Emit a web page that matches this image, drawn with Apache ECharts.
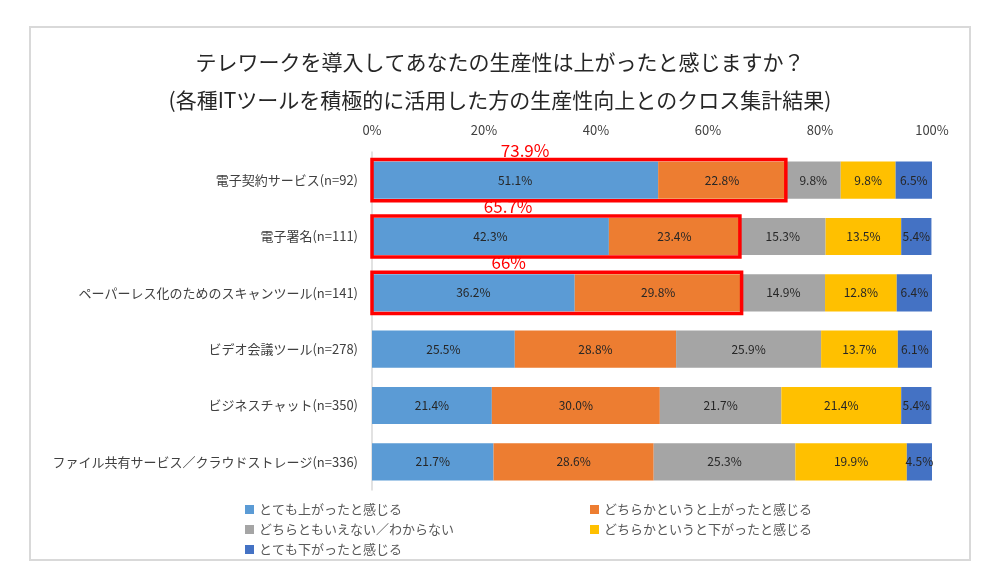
<!DOCTYPE html>
<html>
<head>
<meta charset="utf-8">
<script src="https://cdn.jsdelivr.net/npm/echarts@6/dist/echarts.min.js"></script>
<style>
  html, body { margin: 0; padding: 0; background: #fff; }
  #chart { width: 1000px; height: 588px; }
</style>
</head>
<body>
<div id="chart"></div>
<script>
// カテゴリ（上から順）
const categories = [
  '電子契約サービス(n=92)',
  '電子署名(n=111)',
  'ペーパーレス化のためのスキャンツール(n=141)',
  'ビデオ会議ツール(n=278)',
  'ビジネスチャット(n=350)',
  'ファイル共有サービス／クラウドストレージ(n=336)'
];
const seriesNames = [
  'とても上がったと感じる',
  'どちらかというと上がったと感じる',
  'どちらともいえない／わからない',
  'どちらかというと下がったと感じる',
  'とても下がったと感じる'
];
const veryUp = [51.1, 42.3, 36.2, 25.5, 21.4, 21.7];
const slightlyUp = [22.8, 23.4, 29.8, 28.8, 30.0, 28.6];
const neutral = [9.8, 15.3, 14.9, 25.9, 21.7, 25.3];
const slightlyDown = [9.8, 13.5, 12.8, 13.7, 21.4, 19.9];
const veryDown = [6.5, 5.4, 6.4, 6.1, 5.4, 4.5];
// 赤枠で強調する「上がった」合計（上位3カテゴリ）
const upTotals = [73.9, 65.7, 66];
const xTicks = [0, 20, 40, 60, 80, 100];

const colors = ['#5B9BD5', '#ED7D31', '#A5A5A5', '#FFC000', '#4472C4'];
const FONT = '"Noto Sans CJK JP", "Noto Sans", sans-serif';

const chart = echarts.init(document.getElementById('chart'));

const barSeries = [veryUp, slightlyUp, neutral, slightlyDown, veryDown].map((arr, i) => ({
  name: seriesNames[i],
  type: 'bar',
  stack: 'total',
  barCategoryGap: '34%',
  data: arr,
  itemStyle: { color: colors[i] },
  label: {
    show: true,
    position: 'inside',
    color: '#262626',
    fontSize: 12,
    fontFamily: FONT,
    formatter: p => p.value.toFixed(1) + '%'
  },
  emphasis: { disabled: true }
}));

// 赤枠＋ラベル（カスタムシリーズ）
const boxSeries = {
  type: 'custom',
  z: 10,
  silent: true,
  data: upTotals.map((v, i) => [v, i]),
  encode: { x: 0, y: 1 },
  renderItem: (params, api) => {
    const v = api.value(0);
    const cat = api.value(1);
    const p0 = api.coord([0, cat]);
    const p1 = api.coord([v, cat]);
    const h = api.size([0, 1])[1] * 0.66 + 4;
    const top = p0[1] - h / 2;
    return {
      type: 'group',
      children: [
        {
          type: 'rect',
          shape: { x: p0[0], y: top, width: p1[0] - p0[0], height: h },
          style: { fill: 'none', stroke: '#FF0000', lineWidth: 3.5 }
        },
        {
          type: 'text',
          style: {
            text: v + '%',
            x: p0[0] + (p1[0] - p0[0]) * 0.37,
            y: top - 1,
            align: 'center',
            verticalAlign: 'bottom',
            fill: '#FF0000',
            font: '17px ' + FONT
          }
        }
      ]
    };
  }
};

const option = {
  backgroundColor: '#fff',
  textStyle: { fontFamily: FONT },
  title: {
    text: 'テレワークを導入してあなたの生産性は上がったと感じますか？\n(各種ITツールを積極的に活用した方の生産性向上とのクロス集計結果)',
    left: 'center',
    top: 38,
    textStyle: {
      fontSize: 21,
      fontWeight: 'normal',
      color: '#262626',
      lineHeight: 38,
      fontFamily: FONT
    }
  },
  graphic: [{
    type: 'rect',
    shape: { x: 30, y: 27, width: 940, height: 533 },
    style: { fill: 'none', stroke: '#d9d9d9', lineWidth: 2 },
    silent: true
  }],
  legend: [
    {
      data: [seriesNames[0], seriesNames[2], seriesNames[4]],
      orient: 'vertical',
      left: 240,
      top: 498,
      itemGap: 7,
      itemWidth: 9,
      itemHeight: 9,
      icon: 'rect',
      textStyle: { fontSize: 13, color: '#595959', fontFamily: FONT }
    },
    {
      data: [seriesNames[1], seriesNames[3]],
      orient: 'vertical',
      left: 585,
      top: 498,
      itemGap: 7,
      itemWidth: 9,
      itemHeight: 9,
      icon: 'rect',
      textStyle: { fontSize: 13, color: '#595959', fontFamily: FONT }
    }
  ],
  grid: { left: 372, right: 68, top: 152, bottom: 98 },
  xAxis: {
    type: 'value',
    position: 'top',
    min: xTicks[0],
    max: xTicks[xTicks.length - 1],
    interval: 20,
    axisLine: { show: false },
    axisTick: { show: false },
    splitLine: { show: false },
    axisLabel: {
      formatter: '{value}%',
      fontSize: 13,
      color: '#404040',
      margin: 15,
      fontFamily: FONT
    }
  },
  yAxis: {
    type: 'category',
    data: categories,
    inverse: true,
    axisLine: { show: true, lineStyle: { color: '#d9d9d9', width: 1.5 } },
    axisTick: { show: false },
    axisLabel: {
      fontSize: 13,
      color: '#404040',
      margin: 14,
      fontFamily: FONT
    }
  },
  series: [...barSeries, boxSeries]
};

chart.setOption(option);
</script>
</body>
</html>
